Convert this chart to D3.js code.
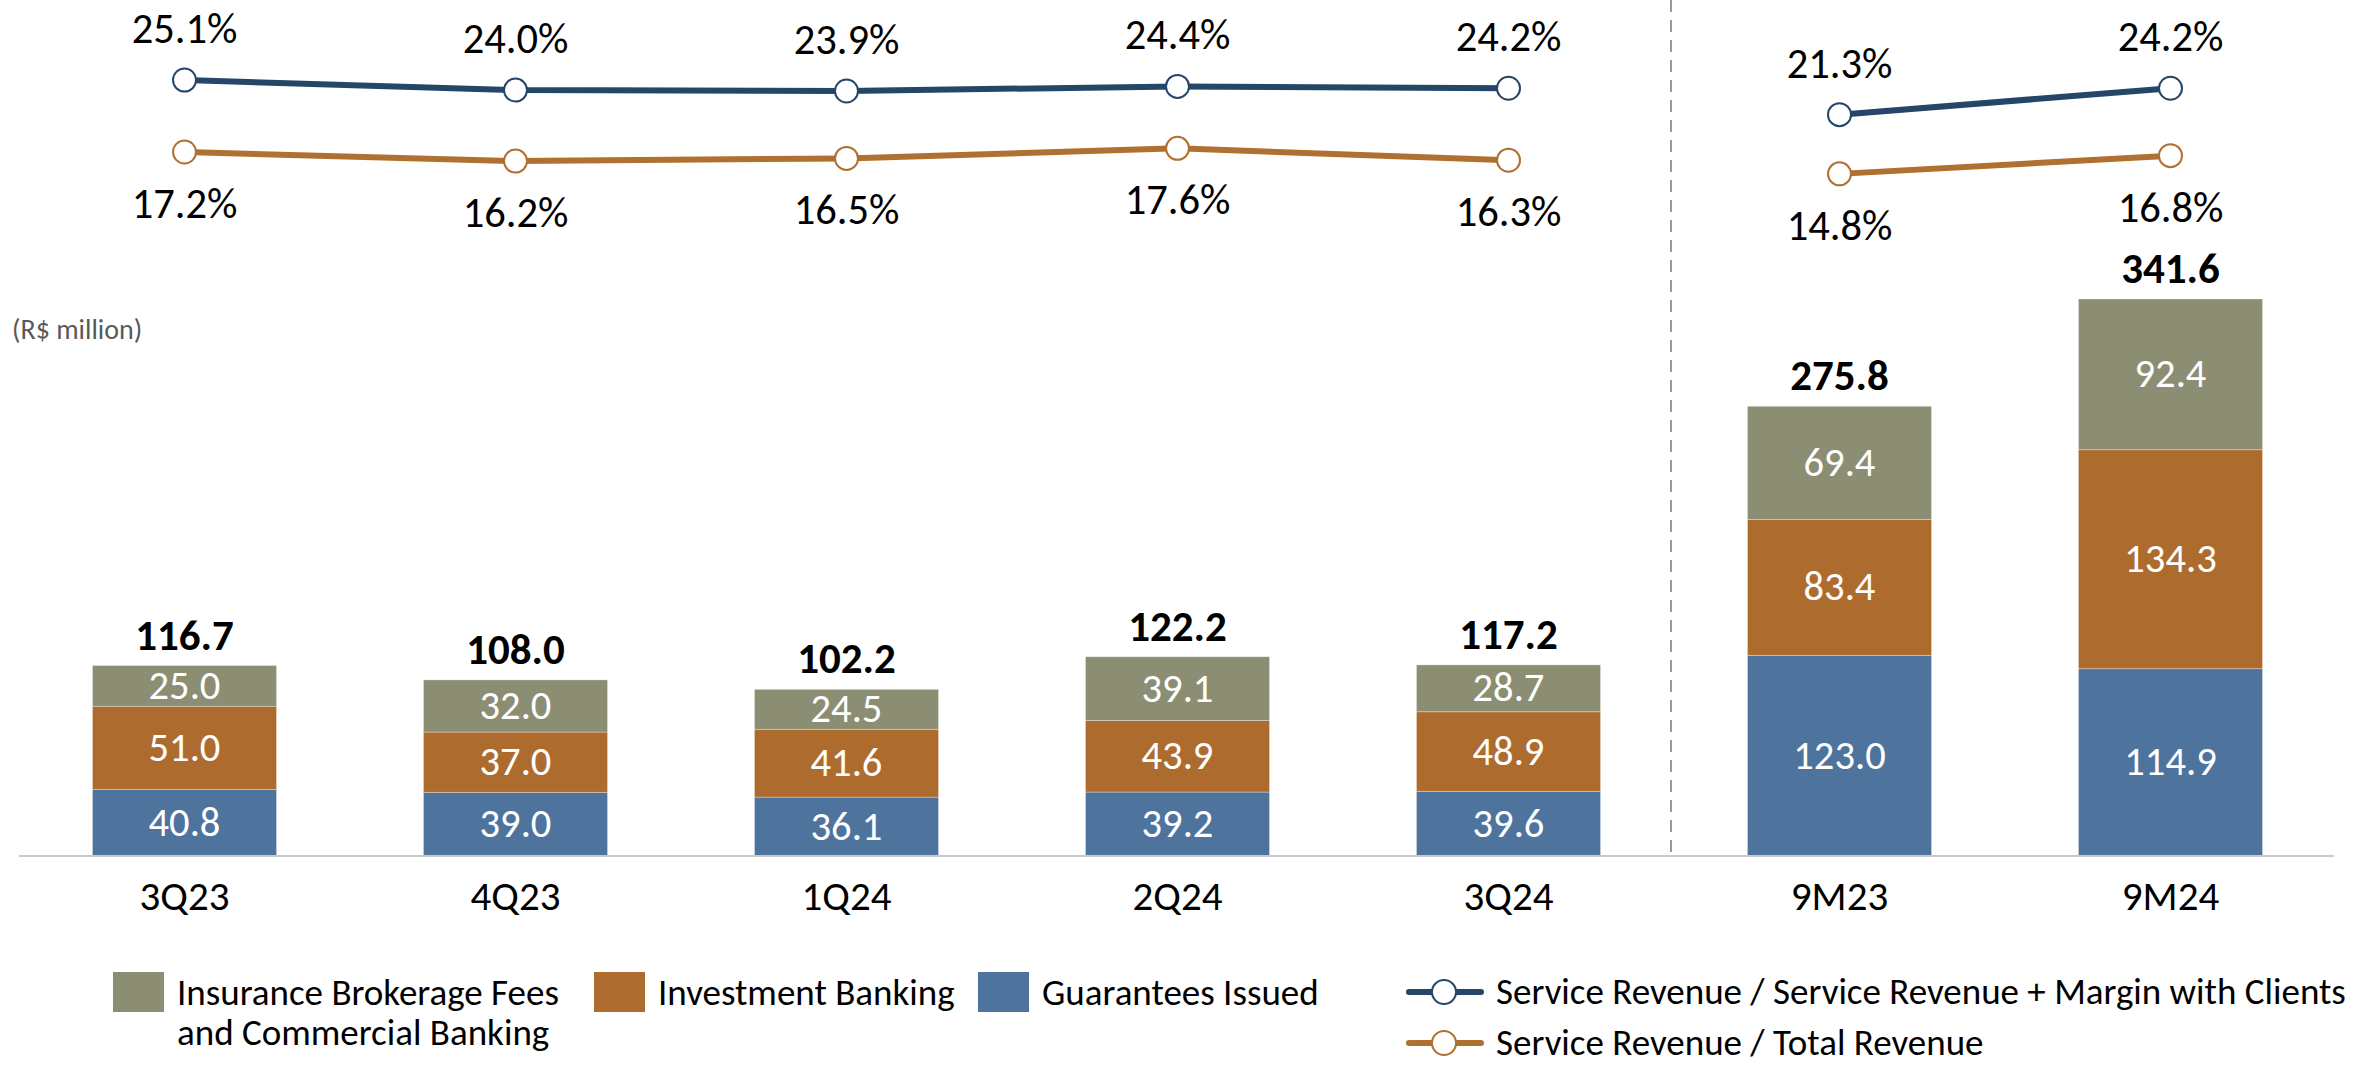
<!DOCTYPE html>
<html>
<head>
<meta charset="utf-8">
<script src="https://cdn.jsdelivr.net/npm/d3@7"></script>
<style>
    html, body { margin: 0; padding: 0; background: #ffffff; }
    svg text { font-family: 'Carlito', 'Open Sans', sans-serif; }
</style>
</head>
<body>
<div id="chart"></div>
<script>
// Chart data (R$ million)
var categories = [ '3Q23', '4Q23', '1Q24', '2Q24', '3Q24', '9M23', '9M24' ];
var guarantees = [ 40.8, 39.0, 36.1, 39.2, 39.6, 123.0, 114.9 ];
var investmentBanking = [ 51.0, 37.0, 41.6, 43.9, 48.9, 83.4, 134.3 ];
var insurance = [ 25.0, 32.0, 24.5, 39.1, 28.7, 69.4, 92.4 ];
var totals = [ 116.7, 108.0, 102.2, 122.2, 117.2, 275.8, 341.6 ];
// Ratios (%)
var ratioMargin = [ 25.1, 24.0, 23.9, 24.4, 24.2, 21.3, 24.2 ];
var ratioTotal = [ 17.2, 16.2, 16.5, 17.6, 16.3, 14.8, 16.8 ];
// Quarterly points are joined, 9M points are joined separately
var lineGroups = [ [ 0, 1, 2, 3, 4 ], [ 5, 6 ] ];

var seriesNames = [ 'Insurance Brokerage Fees|and Commercial Banking', 'Investment Banking', 'Guarantees Issued' ];
var lineNames = [ 'Service Revenue / Service Revenue + Margin with Clients', 'Service Revenue / Total Revenue' ];

var width = 2358,
    height = 1065,
    baseY = 856,
    colors = { guar: '#4e749e', ib: '#ad6c2e', ins: '#8b8e72', lineBlue: '#254569', lineOrange: '#b07030' };

var svg = d3.select( '#chart' )
    .append( 'svg' )
    .attr( 'width', width )
    .attr( 'height', height )
    .attr( 'viewBox', [0, 0, width, height] );

var x = d3.scaleBand()
    .domain( categories )
    .range( [19, 2336] )
    .paddingInner( 0.444 )
    .paddingOuter( 0.222 );

var y = d3.scaleLinear()
    .domain( [0, 341.6] )
    .range( [baseY, 299] );

var yPct = d3.scaleLinear()
    .domain( [10, 30] )
    .range( [217.6, 35.4] );

var cx = function ( i ) { return x( categories[i] ) + x.bandwidth() / 2; };

// Stacked bars
var rows = categories.map( function ( c, i ) {
    return { cat: c, guar: guarantees[i], ib: investmentBanking[i], ins: insurance[i], total: totals[i] };
} );
var stack = d3.stack().keys( [ 'guar', 'ib', 'ins' ] )( rows );

var barG = svg.append( 'g' );
stack.forEach( function ( layer ) {
    var g = barG.append( 'g' ).attr( 'fill', colors[layer.key] );
    g.selectAll( 'rect' )
        .data( layer )
        .join( 'rect' )
            .attr( 'x', function ( d ) { return x( d.data.cat ); } )
            .attr( 'y', function ( d ) { return y( d[1] ); } )
            .attr( 'width', x.bandwidth() )
            .attr( 'height', function ( d ) { return y( d[0] ) - y( d[1] ); } )
            .attr( 'stroke', '#ffffff' )
            .attr( 'stroke-opacity', 0.3 )
            .attr( 'stroke-width', 1 );
    g.selectAll( 'text' )
        .data( layer )
        .join( 'text' )
            .attr( 'x', function ( d ) { return x( d.data.cat ) + x.bandwidth() / 2; } )
            .attr( 'y', function ( d ) { return ( y( d[0] ) + y( d[1] ) ) / 2 + 13; } )
            .attr( 'text-anchor', 'middle' )
            .attr( 'fill', '#ffffff' )
            .attr( 'font-size', '40.5px' )
            .text( function ( d ) { return d.data[layer.key].toFixed( 1 ); } );
} );

// Totals
svg.append( 'g' )
    .selectAll( 'text' )
    .data( rows )
    .join( 'text' )
        .attr( 'x', function ( d ) { return x( d.cat ) + x.bandwidth() / 2; } )
        .attr( 'y', function ( d ) { return y( d.guar + d.ib + d.ins ) - 16; } )
        .attr( 'text-anchor', 'middle' )
        .attr( 'font-size', '43px' )
        .attr( 'font-weight', 'bold' )
        .attr( 'fill', '#000000' )
        .text( function ( d ) { return d.total.toFixed( 1 ); } );

// Baseline
svg.append( 'line' )
    .attr( 'x1', 19 ).attr( 'x2', 2334 )
    .attr( 'y1', baseY ).attr( 'y2', baseY )
    .attr( 'stroke', '#c9c9c9' )
    .attr( 'stroke-width', 2 );

// Category labels
svg.append( 'g' )
    .selectAll( 'text' )
    .data( categories )
    .join( 'text' )
        .attr( 'x', function ( d ) { return x( d ) + x.bandwidth() / 2; } )
        .attr( 'y', 910 )
        .attr( 'text-anchor', 'middle' )
        .attr( 'font-size', '41px' )
        .attr( 'fill', '#000000' )
        .text( function ( d ) { return d; } );

// Divider between quarters and 9M
var divX = ( cx( 4 ) + cx( 5 ) ) / 2 - 3;
svg.append( 'line' )
    .attr( 'x1', divX ).attr( 'x2', divX )
    .attr( 'y1', 0 ).attr( 'y2', baseY )
    .attr( 'stroke', '#9a9a9a' )
    .attr( 'stroke-width', 2 )
    .attr( 'stroke-dasharray', '12,8' );

// Unit label
svg.append( 'text' )
    .attr( 'x', 12 )
    .attr( 'y', 339 )
    .attr( 'font-size', '28px' )
    .attr( 'fill', '#595959' )
    .text( '(R$ million)' );

// Ratio lines
var drawRatio = function ( values, color, labelDy ) {
    var g = svg.append( 'g' );
    var line = d3.line()
        .x( function ( i ) { return cx( i ); } )
        .y( function ( i ) { return yPct( values[i] ); } );
    lineGroups.forEach( function ( grp ) {
        g.append( 'path' )
            .attr( 'd', line( grp ) )
            .attr( 'fill', 'none' )
            .attr( 'stroke', color )
            .attr( 'stroke-width', 6 );
    } );
    g.selectAll( 'circle' )
        .data( values )
        .join( 'circle' )
            .attr( 'cx', function ( d, i ) { return cx( i ); } )
            .attr( 'cy', function ( d ) { return yPct( d ); } )
            .attr( 'r', 11.5 )
            .attr( 'fill', '#ffffff' )
            .attr( 'stroke', color )
            .attr( 'stroke-width', 2 );
    g.selectAll( 'text' )
        .data( values )
        .join( 'text' )
            .attr( 'x', function ( d, i ) { return cx( i ); } )
            .attr( 'y', function ( d ) { return yPct( d ) + labelDy; } )
            .attr( 'text-anchor', 'middle' )
            .attr( 'font-size', '42.5px' )
            .attr( 'fill', '#000000' )
            .text( function ( d ) { return d.toFixed( 1 ) + '%'; } );
};
drawRatio( ratioMargin, colors.lineBlue, -37 );
drawRatio( ratioTotal, colors.lineOrange, 66 );

// Legend - bars
var legend = svg.append( 'g' );
var barLegend = [
    { name: seriesNames[0], color: colors.ins, x: 113 },
    { name: seriesNames[1], color: colors.ib, x: 594 },
    { name: seriesNames[2], color: colors.guar, x: 978 }
];
barLegend.forEach( function ( item ) {
    legend.append( 'rect' )
        .attr( 'x', item.x )
        .attr( 'y', 972 )
        .attr( 'width', 51 )
        .attr( 'height', 40 )
        .attr( 'fill', item.color );
    var t = legend.append( 'text' )
        .attr( 'x', item.x + 64 )
        .attr( 'y', 1005 )
        .attr( 'font-size', '37px' )
        .attr( 'fill', '#000000' );
    item.name.split( '|' ).forEach( function ( part, k ) {
        t.append( 'tspan' )
            .attr( 'x', item.x + 64 )
            .attr( 'dy', k === 0 ? 0 : 40 )
            .text( part );
    } );
} );

// Legend - lines
var lineLegend = [
    { name: lineNames[0], color: colors.lineBlue, y: 992 },
    { name: lineNames[1], color: colors.lineOrange, y: 1043 }
];
lineLegend.forEach( function ( item ) {
    legend.append( 'line' )
        .attr( 'x1', 1409 ).attr( 'x2', 1481 )
        .attr( 'y1', item.y ).attr( 'y2', item.y )
        .attr( 'stroke', item.color )
        .attr( 'stroke-width', 6 )
        .attr( 'stroke-linecap', 'round' );
    legend.append( 'circle' )
        .attr( 'cx', 1444 )
        .attr( 'cy', item.y )
        .attr( 'r', 12 )
        .attr( 'fill', '#ffffff' )
        .attr( 'stroke', item.color )
        .attr( 'stroke-width', 2 );
    legend.append( 'text' )
        .attr( 'x', 1496 )
        .attr( 'y', item.y + 12 )
        .attr( 'font-size', '37px' )
        .attr( 'fill', '#000000' )
        .text( item.name );
} );
</script>
</body>
</html>
